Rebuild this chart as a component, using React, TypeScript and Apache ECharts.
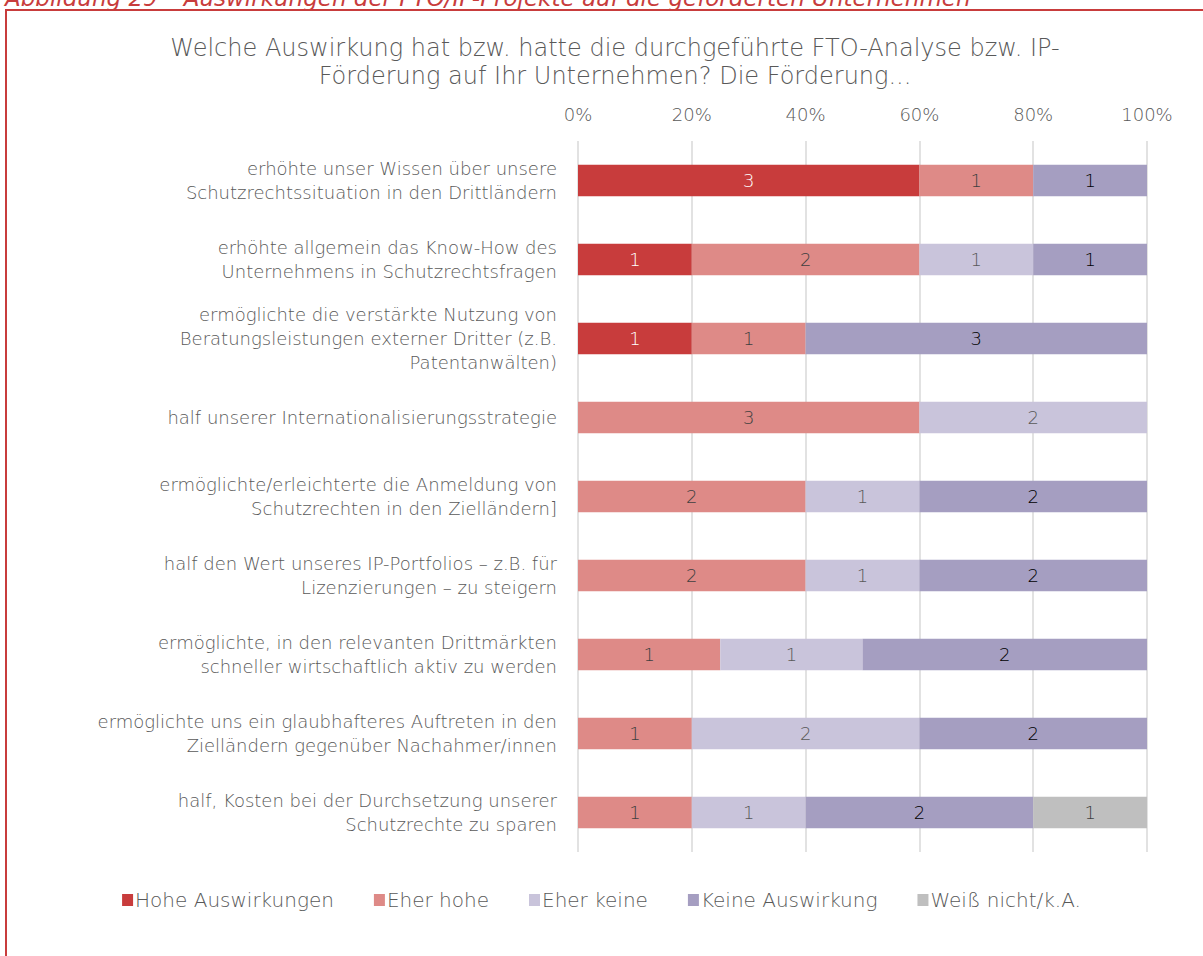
import React, { useEffect, useRef } from "react";
import * as echarts from "echarts";

const categories = [
  "erhöhte unser Wissen über unsere\nSchutzrechtssituation in den Drittländern",
  "erhöhte allgemein das Know-How des\nUnternehmens in Schutzrechtsfragen",
  "ermöglichte die verstärkte Nutzung von\nBeratungsleistungen externer Dritter (z.B.\nPatentanwälten)",
  "half unserer Internationalisierungsstrategie",
  "ermöglichte/erleichterte die Anmeldung von\nSchutzrechten in den Zielländern]",
  "half den Wert unseres IP-Portfolios – z.B. für\nLizenzierungen – zu steigern",
  "ermöglichte, in den relevanten Drittmärkten\nschneller wirtschaftlich aktiv zu werden",
  "ermöglichte uns ein glaubhafteres Auftreten in den\nZielländern gegenüber Nachahmer/innen",
  "half, Kosten bei der Durchsetzung unserer\nSchutzrechte zu sparen",
];

const seriesNames = ["Hohe Auswirkungen", "Eher hohe", "Eher keine", "Keine Auswirkung", "Weiß nicht/k.A."];
const hohe = [3, 1, 1, 0, 0, 0, 0, 0, 0];
const eherHohe = [1, 2, 1, 3, 2, 2, 1, 1, 1];
const eherKeine = [0, 1, 0, 2, 1, 1, 1, 2, 1];
const keine = [1, 1, 3, 0, 2, 2, 2, 2, 2];
const weissNicht = [0, 0, 0, 0, 0, 0, 0, 0, 1];
const xTicks = ["0%", "20%", "40%", "60%", "80%", "100%"];

const colors = ["#C83C3C", "#DE8A87", "#C9C4DB", "#A59EC1", "#BFBFBF"];
const labelColors = ["#FFFFFF", "#404040", "#595959", "#000000", "#404040"];

const FONT = "'DejaVu Sans', sans-serif";

export default function App() {
  const ref = useRef<HTMLDivElement>(null);
  useEffect(() => {
    if (!ref.current) return;
    const chart = echarts.init(ref.current, null, { renderer: "svg" });
    const all = [hohe, eherHohe, eherKeine, keine, weissNicht];
    const totals = categories.map((_, i) => all.reduce((s, a) => s + a[i], 0));
    const series = all.map((arr, si) => ({
      name: seriesNames[si],
      type: "bar",
      stack: "total",
      barWidth: "40%",
      itemStyle: { color: colors[si] },
      label: {
        show: true,
        position: "inside",
        color: labelColors[si],
        fontFamily: FONT,
        fontSize: 18,
        fontWeight: 200,
        formatter: (p: any) => (arr[p.dataIndex] ? String(arr[p.dataIndex]) : ""),
      },
      data: arr.map((v, i) => (v ? (v / totals[i]) * 100 : 0)),
    }));
    chart.setOption({
      animation: false,
      textStyle: { fontFamily: FONT },
      grid: { left: 578, right: 56, top: 141, bottom: 104 },
      xAxis: {
        type: "value",
        position: "top",
        min: 0,
        max: 100,
        interval: 20,
        axisLine: { show: false },
        axisTick: { show: false },
        axisLabel: {
          color: "#595959",
          fontSize: 18,
          fontFamily: FONT,
          fontWeight: 200,
          margin: 18,
          formatter: (v: number) => xTicks[Math.round(v / 20)],
        },
        splitLine: { lineStyle: { color: "#D9D9D9", width: 1.5 } },
      },
      yAxis: {
        type: "category",
        inverse: true,
        data: categories,
        axisLine: { show: false },
        axisTick: { show: false },
        axisLabel: {
          color: "#595959",
          fontSize: 18,
          fontFamily: FONT,
          fontWeight: 200,
          lineHeight: 24,
          margin: 21,
          align: "right",
        },
      },
      legend: {
        bottom: 41,
        left: "center",
        itemWidth: 11,
        itemHeight: 12,
        itemGap: 40,
        icon: "rect",
        textStyle: { color: "#595959", fontSize: 20, fontFamily: FONT, fontWeight: 200, padding: [0, 0, 0, -3] },
        data: seriesNames,
      },
      graphic: [
        {
          type: "rect",
          shape: { x: 6, y: 10, width: 1260, height: 1000 },
          style: { fill: "none", stroke: "#C83C3C", lineWidth: 2 },
        },
        {
          type: "text",
          x: 5,
          y: 9,
          style: {
            text: "Abbildung 29 – Auswirkungen der FTO/IP-Projekte auf die geförderten Unternehmen",
            fill: "#C83C3C",
            font: "italic 200 23px 'DejaVu Sans', sans-serif",
            verticalAlign: "bottom",
          },
        },
        {
          type: "text",
          x: 615,
          y: 34,
          style: {
            text: "Welche Auswirkung hat bzw. hatte die durchgeführte FTO-Analyse bzw. IP-\nFörderung auf Ihr Unternehmen? Die Förderung...",
            fill: "#595959",
            font: "200 24px 'DejaVu Sans', sans-serif",
            lineHeight: 28,
            align: "center",
          },
        },
      ],
      series,
    });
    return () => chart.dispose();
  }, []);
  return <div ref={ref} style={{ position: "absolute", left: 0, top: 0, width: 1203, height: 956 }} />;
}
